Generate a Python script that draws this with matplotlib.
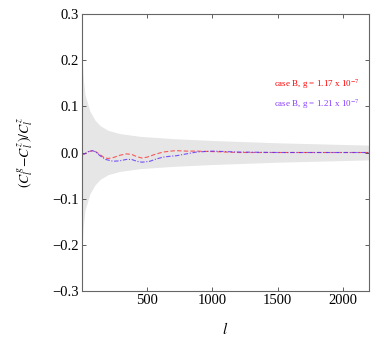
import numpy as np
import matplotlib
matplotlib.use('Agg')
import matplotlib.pyplot as plt

plt.rcParams['font.family'] = 'Liberation Serif'
plt.rcParams['mathtext.fontset'] = 'stix'

# Полоса (cosmic variance)
band_l = [2, 10, 23, 60, 100, 140, 200, 290, 444, 700, 1000, 1500, 2200]
band_w = [0.20, 0.16, 0.125, 0.09, 0.07, 0.058, 0.048, 0.041, 0.035, 0.030, 0.026, 0.021, 0.016]

# case B, g = 1.17e-7 (красная)
red_l = [2, 20, 50, 82, 110, 140, 170, 200, 240, 290, 340, 380, 420, 460, 500, 560, 622,
         680, 724, 800, 877, 1000, 1200, 1500, 2200]
red_y = [-0.004, -0.003, 0.002, 0.004, 0.001, -0.005, -0.011, -0.013, -0.011, -0.006,
         -0.003, -0.004, -0.009, -0.012, -0.010, -0.004, 0.001, 0.003, 0.004, 0.003, 0.003,
         0.002, 0.0, 0.0, 0.0]

# case B, g = 1.21e-7 (синяя)
blue_l = [2, 20, 50, 82, 110, 138, 180, 240, 290, 340, 380, 420, 460, 520, 570, 622, 680,
          724, 800, 877, 1000, 1200, 1500, 2200]
blue_y = [-0.003, -0.003, 0.002, 0.004, 0.000, -0.007, -0.015, -0.019, -0.018, -0.015,
          -0.015, -0.019, -0.021, -0.019, -0.014, -0.010, -0.008, -0.007, -0.003, 0.001,
          0.003, 0.001, 0.0, 0.0]

labels = ['case B, g = 1.17 x 10$^{-7}$', 'case B, g = 1.21 x 10$^{-7}$']

fig = plt.figure(figsize=(3.87, 3.42), dpi=100)
ax = fig.add_axes([82/387, 1 - 291/342, 287/387, 277/342])

bw = np.array(band_w)
ax.fill_between(band_l, -bw, bw, color='#e6e6e6', linewidth=0)
ax.plot(red_l, red_y, color='#ff2a2a', linestyle=(0, (4, 2)), linewidth=0.8, alpha=0.75)
ax.plot(blue_l, blue_y, color='#5a2bff', linestyle=(0, (4, 1.5, 1, 1.5)), linewidth=0.8, alpha=0.8)

ax.text(2130, 0.148, labels[0], color='red', fontsize=6.5, ha='right', va='center')
ax.text(2130, 0.105, labels[1], color='#8a3cff', fontsize=6.5, ha='right', va='center')

ax.set_xlim(0, 2200)
ax.set_ylim(-0.3, 0.3)
ax.set_xticks([500, 1000, 1500, 2000])
ax.set_yticks([-0.3, -0.2, -0.1, 0.0, 0.1, 0.2, 0.3])
ax.tick_params(direction='in', length=3, width=0.6, colors='#444444', labelcolor='black',
               labelsize=10.5, top=True, right=True, pad=2)
for s in ax.spines.values():
    s.set_color('#666666')
    s.set_linewidth(0.8)

ax.set_xlabel('$l$', fontsize=11, labelpad=10)
ax.set_ylabel('$(C_l^g\\!-\\!C_l^z)/C_l^z$', fontsize=10, labelpad=12)

plt.savefig('out.png', dpi=100)
plt.close()
